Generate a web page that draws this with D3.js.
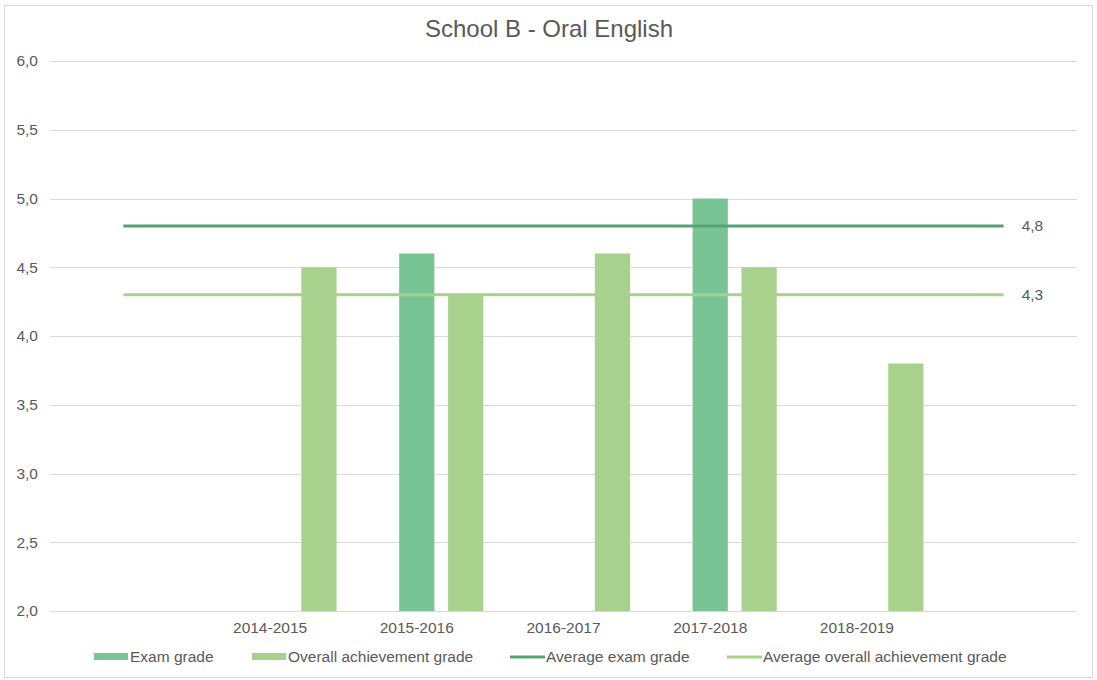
<!DOCTYPE html>
<html>
<head>
<meta charset="utf-8">
<script src="https://cdn.jsdelivr.net/npm/d3@7"></script>
<style>
  html, body { margin: 0; padding: 0; background: #fff; }
  svg { display: block; font-family: "Liberation Sans", Arial, sans-serif; }
</style>
</head>
<body>
<svg id="chart" width="1097" height="680"></svg>
<script>
// School years shown on the category axis
const years = ["2014-2015", "2015-2016", "2016-2017", "2017-2018", "2018-2019"];
// Exam grade per year (null where no exam was held)
const examGrade = [null, 4.6, null, 5.0, null];
// Overall achievement grade per year
const overallGrade = [4.5, 4.3, 4.6, 4.5, 3.8];
// Averages drawn as horizontal reference lines
const averageExam = 4.8;
const averageOverall = 4.3;
// Value axis ticks
const yTicks = [2.0, 2.5, 3.0, 3.5, 4.0, 4.5, 5.0, 5.5, 6.0];
// Bar slots inside each year group (first slot left empty)
const barSlots = ["", "Exam grade", "Overall achievement grade"];

const colors = {
  exam: "#79c495",
  overall: "#a9d18e",
  avgExam: "#55a172",
  avgOverall: "#a9d18e",
  text: "#595959",
  grid: "#d9d9d9"
};

const fmt = d3.formatLocale({ decimal: ",", thousands: ".", grouping: [3], currency: ["", ""] });
const f1 = fmt.format(".1f");

const svg = d3.select("#chart");
const W = 1097, H = 680;
const plot = { left: 50, right: 1077, top: 61, bottom: 611 };
const labelSize = 15.5;

// Outer frame
svg.append("rect")
  .attr("x", 4.5).attr("y", 5.5).attr("width", W - 9).attr("height", H - 8)
  .attr("fill", "#fff").attr("stroke", colors.grid).attr("stroke-width", 1);

// Title
svg.append("text")
  .attr("x", 549).attr("y", 37)
  .attr("text-anchor", "middle")
  .attr("font-size", 24).attr("fill", colors.text)
  .text("School B - Oral English");

const y = d3.scaleLinear().domain([2, 6]).range([plot.bottom, plot.top]);
const x0 = d3.scaleBand().domain(years).range([plot.left, plot.right])
  .paddingInner(0).paddingOuter(1);
const step = x0.step();
const x1 = d3.scaleBand().domain(barSlots).range([-step / 2, step / 2])
  .paddingInner(0.28).paddingOuter(0.14);

// Gridlines
svg.append("g")
  .selectAll("line").data(yTicks).join("line")
  .attr("x1", plot.left).attr("x2", plot.right)
  .attr("y1", d => Math.round(y(d)) + 0.5).attr("y2", d => Math.round(y(d)) + 0.5)
  .attr("stroke", colors.grid).attr("stroke-width", 1);

// Y axis labels
const yAxis = d3.axisLeft(y).tickValues(yTicks).tickFormat(f1).tickSize(0).tickPadding(0);
const gy = svg.append("g").attr("transform", `translate(38,0)`).call(yAxis);
gy.select(".domain").remove();
gy.selectAll("text").attr("font-size", labelSize).attr("fill", colors.text)
  .attr("font-family", "Liberation Sans, Arial, sans-serif");

// X axis labels
const xAxis = d3.axisBottom(x0).tickSize(0).tickPadding(0);
const gx = svg.append("g").attr("transform", `translate(0,${plot.bottom + 11})`).call(xAxis);
gx.select(".domain").remove();
gx.selectAll("text").attr("font-size", labelSize).attr("fill", colors.text)
  .attr("font-family", "Liberation Sans, Arial, sans-serif");

// Bars
const center = d => x0(d) + x0.bandwidth() / 2;
const barRows = [];
years.forEach((yr, i) => {
  if (examGrade[i] != null) barRows.push({ year: yr, slot: barSlots[1], v: examGrade[i], c: colors.exam });
  if (overallGrade[i] != null) barRows.push({ year: yr, slot: barSlots[2], v: overallGrade[i], c: colors.overall });
});
svg.append("g").selectAll("rect").data(barRows).join("rect")
  .attr("x", d => center(d.year) + x1(d.slot))
  .attr("width", x1.bandwidth())
  .attr("y", d => y(d.v))
  .attr("height", d => y(2) - y(d.v))
  .attr("fill", d => d.c);

// Average lines span from the left padding slot to the right padding slot
const lineStart = center(years[0]) - step;
const lineEnd = center(years[years.length - 1]) + step;
const avgRows = [
  { v: averageExam, c: colors.avgExam },
  { v: averageOverall, c: colors.avgOverall }
];
const gAvg = svg.append("g");
gAvg.selectAll("line").data(avgRows).join("line")
  .attr("x1", lineStart).attr("x2", lineEnd)
  .attr("y1", d => y(d.v)).attr("y2", d => y(d.v))
  .attr("stroke", d => d.c).attr("stroke-width", 3);
gAvg.selectAll("text").data(avgRows).join("text")
  .attr("x", lineEnd + 18).attr("y", d => y(d.v))
  .attr("dy", "0.35em")
  .attr("font-size", labelSize).attr("fill", colors.text)
  .text(d => f1(d.v));

// Legend
const legendY = 657;
const legend = [
  { label: "Exam grade", type: "bar", c: colors.exam, x: 94 },
  { label: "Overall achievement grade", type: "bar", c: colors.overall, x: 252 },
  { label: "Average exam grade", type: "line", c: colors.avgExam, x: 510 },
  { label: "Average overall achievement grade", type: "line", c: colors.avgOverall, x: 727 }
];
const gl = svg.append("g");
legend.forEach(item => {
  if (item.type === "bar") {
    gl.append("rect").attr("x", item.x).attr("y", legendY - 4).attr("width", 34).attr("height", 7)
      .attr("fill", item.c);
  } else {
    gl.append("line").attr("x1", item.x).attr("x2", item.x + 35)
      .attr("y1", legendY).attr("y2", legendY)
      .attr("stroke", item.c).attr("stroke-width", 3);
  }
  gl.append("text").attr("x", item.x + 36).attr("y", legendY).attr("dy", "0.35em")
    .attr("font-size", labelSize).attr("fill", colors.text).text(item.label);
});
</script>
</body>
</html>
